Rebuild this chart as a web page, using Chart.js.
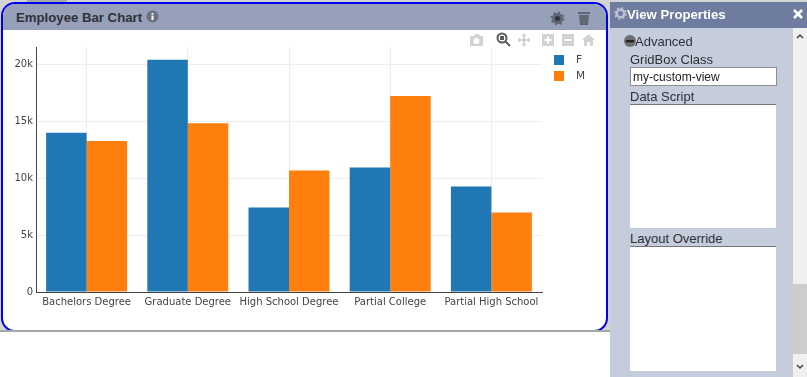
<!DOCTYPE html>
<html>
<head>
<meta charset="utf-8">
<script src="https://cdn.jsdelivr.net/npm/chart.js@4/dist/chart.umd.min.js"></script>
<style>
  html, body { margin: 0; padding: 0; width: 807px; height: 377px; overflow: hidden; background: #fff; font-family: "Liberation Sans", Arial, sans-serif; }
  div, input, textarea { position: absolute; box-sizing: border-box; }
  svg { position: absolute; }
  #backing { left: 0; top: 0; width: 610px; height: 331px; background: #d4d4d4; }
  #topStrip { left: 610px; top: 0; width: 197px; height: 2px; background: #d4d4d4; }
  #topTab { left: 27px; top: 0; width: 40px; height: 2px; background: #a8a8a8; }
  #gridbox { left: 1px; top: 2px; width: 607px; height: 330px; border: 2px solid #0000ee; border-radius: 14px; background: #fff; overflow: hidden; }
  #shadow { left: 0; top: 330px; width: 610px; height: 2px; background: #a6a6a6; }
  #gridHead { left: 0; top: 0; width: 603px; height: 26px; background: #96a0b9; }
  #gridTitle { left: 13px; top: 6px; font-size: 13.2px; font-weight: bold; color: #2f3238; white-space: nowrap; }
  #chartBox { left: 0; top: 26px; width: 603px; height: 299px; }
  #panel { left: 610px; top: 2px; width: 183px; height: 375px; background: #c5cddc; }
  #panelHead { left: 0; top: 0; width: 197px; height: 26px; background: #6d7c9f; }
  #panelTitle { left: 17px; top: 5px; font-size: 13.2px; font-weight: bold; color: #fff; white-space: nowrap; }
  .lab { font-size: 13px; color: #2c2f36; white-space: nowrap; }
  .field { background: #fff; }
  .legendRow { left: 551px; width: 50px; height: 12px; }
  .legendBox { left: 0; top: 1px; width: 10px; height: 10px; }
  .legendText { left: 22px; top: -1px; font: 10.5px "DejaVu Sans", Verdana, sans-serif; color: #444; }
  #scroll { left: 793px; top: 28px; width: 14px; height: 349px; background: #f0f0f0; }
  #thumb { left: 0; top: 256px; width: 14px; height: 70px; background: #cdcdcd; }
</style>
</head>
<body>
<div id="backing"></div>
<div id="topStrip"></div>
<div id="topTab"></div>
<div id="gridbox">
  <div id="gridHead">
    <div id="gridTitle">Employee Bar Chart</div>
    <svg style="left:143px;top:6px" width="13" height="13"><circle cx="6.5" cy="6.5" r="6" fill="#6b7080"/><rect x="5.5" y="5.5" width="2" height="4.5" fill="#fff"/><rect x="5.5" y="3" width="2" height="1.6" fill="#fff"/></svg>
    <svg style="left:547px;top:7px" width="15" height="15"><circle cx="7.5" cy="7.5" r="4" fill="#2f3440" stroke="#5f6675" stroke-width="3"/><circle cx="7.5" cy="7.5" r="6" fill="none" stroke="#5f6675" stroke-width="2" stroke-dasharray="2 2.7"/></svg>
    <svg style="left:574px;top:7px" width="14" height="15"><rect x="1" y="1" width="12" height="2" fill="#5f6675"/><path d="M2 4H12L11 14H3Z" fill="#5f6675"/></svg>
  </div>
  <div id="chartBox"><canvas id="Employee-Chart"></canvas></div>
  <div id="legend"></div>
  <svg style="left:466px;top:29px" width="15" height="14"><path d="M1 3H5L6 1H10L11 3H14V13H1Z" fill="#d2d2d2"/><circle cx="7.5" cy="8" r="3" fill="#fff"/></svg>
  <svg style="left:493px;top:28px" width="15" height="15"><circle cx="6" cy="6" r="4.5" fill="none" stroke="#5a5a5a" stroke-width="2"/><rect x="4" y="4" width="4" height="4" fill="#5a5a5a"/><path d="M9.5 9.5L14 14" stroke="#5a5a5a" stroke-width="2"/></svg>
  <svg style="left:514px;top:29px" width="14" height="14"><path d="M7 1V13M1 7H13" stroke="#d2d2d2" stroke-width="2"/><path d="M7 0L4.5 3H9.5ZM7 14L4.5 11H9.5ZM0 7L3 4.5V9.5ZM14 7L11 4.5V9.5Z" fill="#d2d2d2"/></svg>
  <svg style="left:539px;top:30px" width="12" height="12"><rect width="12" height="12" fill="#d2d2d2"/><path d="M6 2.5V9.5M2.5 6H9.5" stroke="#fff" stroke-width="2"/></svg>
  <svg style="left:559px;top:30px" width="12" height="12"><rect width="12" height="12" fill="#d2d2d2"/><path d="M2.5 6H9.5" stroke="#fff" stroke-width="2"/></svg>
  <svg style="left:579px;top:30px" width="13" height="12"><path d="M6.5 0L13 6H11V12H8V8H5V12H2V6H0Z" fill="#d2d2d2"/></svg>
</div>
<div id="shadow"></div>
<div id="panel">
  <div id="panelHead">
    <svg style="left:4px;top:5px" width="13" height="13"><circle cx="6.5" cy="6.5" r="3.8" fill="none" stroke="#b9c1d2" stroke-width="2.6"/><circle cx="6.5" cy="6.5" r="5.6" fill="none" stroke="#b9c1d2" stroke-width="1.6" stroke-dasharray="2 2.4"/></svg>
    <div id="panelTitle">View Properties</div>
    <svg style="left:182px;top:6px" width="12" height="12"><path d="M2 2L10 10M10 2L2 10" stroke="#fff" stroke-width="2.6"/></svg>
  </div>
  <svg style="left:14px;top:33px" width="12" height="12"><circle cx="6" cy="6" r="6" fill="#6f6f6f"/><rect x="2" y="5" width="8" height="2.4" fill="#222"/></svg>
  <div class="lab" style="left:25px;top:32px">Advanced</div>
  <div class="lab" style="left:20px;top:50px">GridBox Class</div>
  <input type="text" value="my-custom-view" style="left:20px;top:65px;width:147px;height:19px;border:1px solid #8f8f8f;padding:0 2px;font:12px 'Liberation Sans',Arial,sans-serif;color:#222;">
  <div class="lab" style="left:20px;top:87px">Data Script</div>
  <div class="field" style="left:20px;top:102px;width:146px;height:124px;border-top:1px solid #777"></div>
  <div class="lab" style="left:20px;top:229px">Layout Override</div>
  <div class="field" style="left:20px;top:244px;width:146px;height:125px;border-top:1px solid #777"></div>
</div>
<div id="scroll">
  <svg style="left:3px;top:5px" width="8" height="6"><path d="M1 5L4 2L7 5" fill="none" stroke="#444" stroke-width="1.5"/></svg>
  <div id="thumb"></div>
  <svg style="left:3px;top:336px" width="8" height="6"><path d="M1 1L4 4L7 1" fill="none" stroke="#444" stroke-width="1.5"/></svg>
</div>

<script>
const categories = [
  "Bachelors Degree",
  "Graduate Degree",
  "High School Degree",
  "Partial College",
  "Partial High School",
];
const femaleValues = [14000, 20430, 7430, 10950, 9270];
const maleValues = [13280, 14850, 10690, 17230, 7000];
const yTicks = [0, 5000, 10000, 15000, 20000];

const tickFont = { family: "'DejaVu Sans', Verdana, sans-serif", size: 10 };

const data = {
  labels: categories,
  datasets: [
    { label: "F", data: femaleValues, backgroundColor: "#1f77b4", borderWidth: 0 },
    { label: "M", data: maleValues, backgroundColor: "#ff7f0e", borderWidth: 0 },
  ],
};

const config = {
  type: "bar",
  data: data,
  options: {
    responsive: false,
    animation: false,
    layout: { padding: { top: 17, right: 64, bottom: 17, left: 0 } },
    datasets: { bar: { categoryPercentage: 0.8, barPercentage: 1 } },
    plugins: {
      tooltip: { enabled: false },
      legend: { display: false },
    },
    scales: {
      x: {
        grid: { color: "#eeeeee", offset: false, drawTicks: false },
        border: { color: "#444", width: 1 },
        ticks: { color: "#444", font: tickFont, maxRotation: 0, autoSkip: false, padding: 4 },
      },
      y: {
        min: 0,
        max: 21550,
        afterFit(scale) { scale.width = 33; },
        afterBuildTicks(scale) { scale.ticks = yTicks.map((v) => ({ value: v })); },
        grid: { color: "#eeeeee", drawTicks: false },
        border: { color: "#444", width: 1 },
        ticks: {
          color: "#444",
          font: tickFont,
          padding: 3,
          callback: (v) => (v === 0 ? "0" : v / 1000 + "k"),
        },
      },
    },
  },
};

const canvas = document.getElementById("Employee-Chart");
canvas.width = 603;
canvas.height = 299;
let myChart = new Chart(canvas, config);

// legend rows, same colours as the datasets
data.datasets.forEach((ds, i) => {
  const row = document.createElement("div");
  row.className = "legendRow";
  row.style.top = 50 + i * 16 + "px";
  row.innerHTML = '<div class="legendBox" style="background:' + ds.backgroundColor + '"></div><div class="legendText">' + ds.label + "</div>";
  document.getElementById("gridbox").appendChild(row);
});
</script>
</body>
</html>
